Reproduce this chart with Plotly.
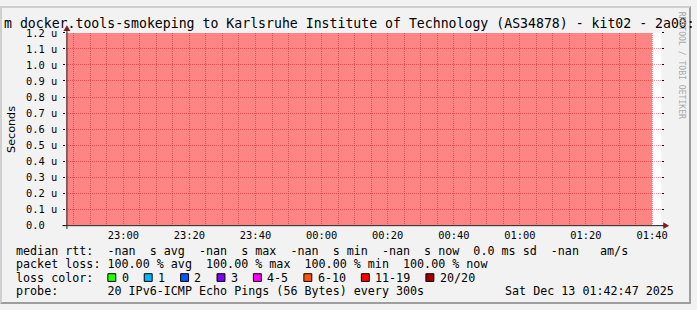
import plotly.graph_objects as go
import pandas as pd

W, H = 697, 310

# ---------------- data ----------------
title_text = "m docker.tools-smokeping to Karlsruhe Institute of Technology (AS34878) - kit02 - 2a00:"
y_title = "Seconds"
watermark = "RRDTOOL / TOBI OETIKER"

x_start = "2025-12-12 22:42:47"
x_end = "2025-12-13 01:42:47"

pings_per_probe = 20
step_seconds = 300
# end time of each 5-minute probe interval
probe_times = pd.date_range("2025-12-12 22:45", "2025-12-13 01:40", freq="5min")
lost_pings = [20, 20, 20, 20, 20, 20, 20, 20, 20, 20, 20, 20,
              20, 20, 20, 20, 20, 20, 20, 20, 20, 20, 20, 20,
              20, 20, 20, 20, 20, 20, 20, 20, 20, 20, 20, 20]
median_rtt = [None] * 36  # all -nan: every ping lost

x_major_ticks = pd.date_range("2025-12-12 23:00", "2025-12-13 01:40", freq="20min")
x_minor_ticks = [t for t in pd.date_range("2025-12-12 22:45", "2025-12-13 01:40", freq="5min")
                 if t.minute % 20 != 0]

y_tick_vals = [0.0, 0.1e-6, 0.2e-6, 0.3e-6, 0.4e-6, 0.5e-6, 0.6e-6,
               0.7e-6, 0.8e-6, 0.9e-6, 1.0e-6, 1.1e-6, 1.2e-6]
y_tick_text = ["0.0  ", "0.1 u", "0.2 u", "0.3 u", "0.4 u", "0.5 u", "0.6 u",
               "0.7 u", "0.8 u", "0.9 u", "1.0 u", "1.1 u", "1.2 u"]

legend_rows = [
    "median rtt:  -nan  s avg  -nan  s max  -nan  s min  -nan  s now  0.0 ms sd  -nan   am/s",
    "packet loss: 100.00 % avg  100.00 % max  100.00 % min  100.00 % now",
    "loss color:",
    "probe:       20 IPv6-ICMP Echo Pings (56 Bytes) every 300s",
]
probe_date = "Sat Dec 13 01:42:47 2025"
loss_labels = ["0", "1", "2", "3", "4-5", "6-10", "11-19", "20/20"]
loss_colors = ["#26ff00", "#00b8ff", "#0059ff", "#7e00ff", "#ff00ff", "#ff5500", "#ff0000", "#a10000"]

# ---------------- layout helpers ----------------
def px(x):
    return x / W

def py(y):
    return 1 - y / H

def nb(s):
    return s.replace(" ", "\u00a0")

MONO = "DejaVu Sans Mono"
X0, X1, Y0, Y1 = 67, 667, 228, 28
BG = "#f2f2f2"
MGRID = "rgba(222,79,79,0.6)"
GRID = "rgba(143,143,143,0.75)"
ARROW = "#801f1f"
AXIS = "#1f1f1f"

loss_frac = [v / pings_per_probe for v in lost_pings]
# step outline: each value covers (t - step, t]
step_x = [probe_times[0] - pd.Timedelta(seconds=step_seconds)] + list(probe_times)
step_y = [loss_frac[0]] + loss_frac

fig = go.Figure()
fig.add_trace(go.Scatter(
    x=step_x, y=step_y, yaxis="y2", mode="lines", line_shape="vh",
    line=dict(width=0, color="rgba(0,0,0,0)"), fill="tozeroy",
    fillcolor="rgba(255,0,0,0.48)", hoverinfo="skip", showlegend=False,
))
fig.add_trace(go.Scatter(
    x=list(probe_times), y=median_rtt, yaxis="y", mode="lines",
    line=dict(color="#202020", width=1), hoverinfo="skip", showlegend=False,
))

fig.update_layout(
    width=W, height=H, autosize=False,
    margin=dict(l=0, r=0, t=0, b=0),
    paper_bgcolor=BG, plot_bgcolor="#ffffff",
    showlegend=False,
    xaxis=dict(
        domain=[px(X0), px(X1)], range=[x_start, x_end], type="date",
        tickmode="array", tickvals=list(x_major_ticks), tickformat="%H:%M",
        showgrid=True, gridcolor=MGRID, griddash="1px,1px", gridwidth=1,
        minor=dict(tickmode="array", tickvals=x_minor_ticks, showgrid=True,
                   gridcolor=GRID, griddash="1px,1px", gridwidth=1, ticks=""),
        ticks="", showline=False, zeroline=False,
        tickfont=dict(family=MONO, size=10.4, color="#000"),
        ticklabelstandoff=2,
    ),
    yaxis=dict(
        domain=[py(Y0), py(Y1)], range=[0, 1.2e-6],
        tickvals=y_tick_vals, ticktext=[nb(t) for t in y_tick_text],
        showgrid=True, gridcolor=MGRID, griddash="1px,1px", gridwidth=1,
        ticks="outside", ticklen=2, tickcolor="#000", tickwidth=1, mirror="ticks",
        showline=False, zeroline=False,
        tickfont=dict(family=MONO, size=10.4, color="#000"),
        ticklabelstandoff=4,
    ),
    yaxis2=dict(domain=[py(Y0), py(Y1)], range=[0, 1], overlaying="y",
                visible=False, showgrid=False),
)

shapes = []
# 3D frame
shapes.append(dict(type="path", xref="paper", yref="paper",
                   path=f"M 0,{py(H)} L {px(2)},{py(H-2)} L {px(2)},{py(2)} L {px(W-2)},{py(2)} L {px(W)},{py(0)} L 0,{py(0)} Z",
                   fillcolor="#cfcfcf", line=dict(width=0)))
shapes.append(dict(type="path", xref="paper", yref="paper",
                   path=f"M {px(2)},{py(H-2)} L {px(W-2)},{py(H-2)} L {px(W-2)},{py(2)} L {px(W)},{py(0)} L {px(W)},{py(H)} L 0,{py(H)} Z",
                   fillcolor="#9e9e9e", line=dict(width=0)))
# axes
shapes.append(dict(type="line", xref="paper", yref="paper",
                   x0=px(X0 - 4), x1=px(X1 + 4), y0=py(Y0 + 0.5), y1=py(Y0 + 0.5),
                   line=dict(color=AXIS, width=1)))
shapes.append(dict(type="line", xref="paper", yref="paper",
                   x0=px(X0 + 0.5), x1=px(X0 + 0.5), y0=py(Y0 + 4), y1=py(Y1 - 4),
                   line=dict(color=AXIS, width=1)))
# arrows
shapes.append(dict(type="path", xref="paper", yref="paper",
                   path=f"M {px(X1+2)},{py(Y0-3)} L {px(X1+2)},{py(Y0+4)} L {px(X1+8)},{py(Y0+0.5)} Z",
                   fillcolor=ARROW, line=dict(width=0)))
shapes.append(dict(type="path", xref="paper", yref="paper",
                   path=f"M {px(X0-3)},{py(Y1-2)} L {px(X0+4)},{py(Y1-2)} L {px(X0+0.5)},{py(Y1-8)} Z",
                   fillcolor=ARROW, line=dict(width=0)))

annotations = []
annotations.append(dict(text=nb(title_text), x=px(3), y=py(18), xref="paper", yref="paper",
                        xanchor="left", yanchor="middle", showarrow=False, borderpad=0,
                        font=dict(family=MONO, size=13.2, color="#000")))
annotations.append(dict(text=y_title, x=px(11), y=py(128), xref="paper", yref="paper",
                        xanchor="center", yanchor="middle", showarrow=False, textangle=-90,
                        borderpad=0, font=dict(family="DejaVu Sans", size=11.2, color="#000")))
annotations.append(dict(text=nb(watermark), x=px(687.5), y=py(5), xref="paper", yref="paper",
                        xanchor="center", yanchor="top", showarrow=False, textangle=90,
                        borderpad=0, font=dict(family=MONO, size=8.1, color="#a9a9a9")))

row_y = [254.5, 268.5, 282.5, 296.5]
for txt, yy in zip(legend_rows, row_y):
    annotations.append(dict(text=nb(txt), x=px(15.4), y=py(yy), xref="paper", yref="paper",
                            xanchor="left", yanchor="middle", showarrow=False, borderpad=0,
                            font=dict(family=MONO, size=11.7, color="#000")))
annotations.append(dict(text=nb(probe_date), x=px(681), y=py(row_y[3]), xref="paper", yref="paper",
                        xanchor="right", yanchor="middle", showarrow=False, borderpad=0,
                        font=dict(family=MONO, size=11.7, color="#000")))

# loss colour boxes
bx = 108.3
for lab, col in zip(loss_labels, loss_colors):
    shapes.append(dict(type="rect", xref="paper", yref="paper",
                       x0=px(bx + 0.5), x1=px(bx + 8.5), y0=py(278.5), y1=py(286.5),
                       fillcolor=col, line=dict(color="#000", width=1)))
    annotations.append(dict(text=nb(lab), x=px(bx + 13.4), y=py(row_y[2]), xref="paper", yref="paper",
                            xanchor="left", yanchor="middle", showarrow=False, borderpad=0,
                            font=dict(family=MONO, size=11.7, color="#000")))
    bx += 29.6 + 7.1 * len(lab)

fig.update_layout(shapes=shapes, annotations=annotations)
fig.write_html("out.html")
